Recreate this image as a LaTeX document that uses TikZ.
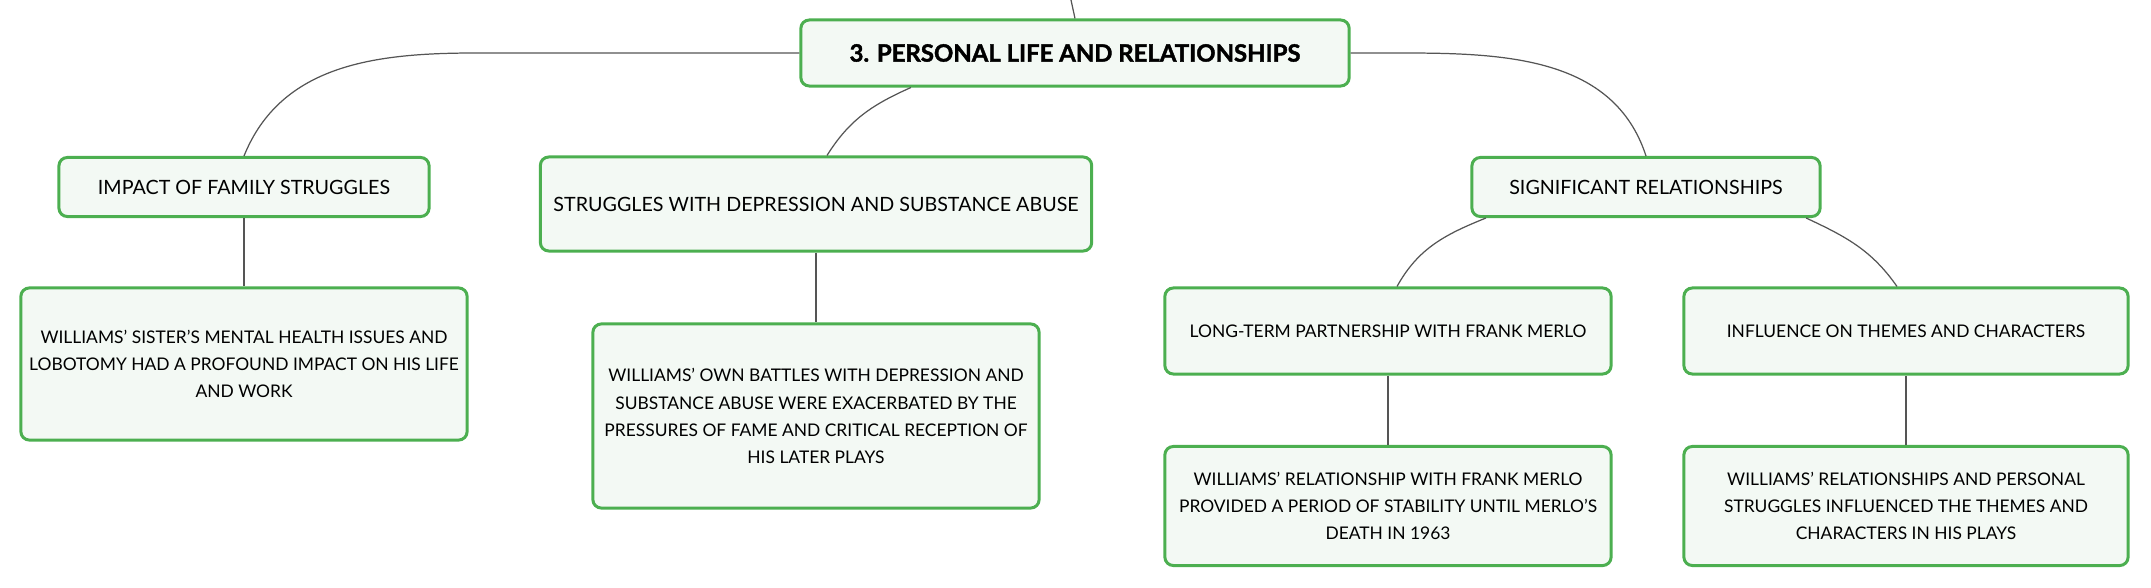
\documentclass[tikz,border=0pt]{standalone}
\usepackage{fontspec}
\setmainfont{Lato}[BoldFeatures={FakeBold=1.6}]
\definecolor{boxgreen}{HTML}{4CAF50}
\definecolor{boxfill}{HTML}{F3F9F4}
\definecolor{linkgray}{HTML}{555555}
\begin{document}
\begin{tikzpicture}[x=0.01cm, y=0.01cm,
  box/.style={draw=boxgreen, fill=boxfill, line width=0.85pt, rounded corners=2.4pt,
    align=center, inner sep=0pt, font=\fontsize{5.6}{7.7}\selectfont},
  leaf/.style={box, font=\fontsize{4.95}{7.7}\selectfont},
  link/.style={draw=linkgray, line width=0.35pt}]
\useasboundingbox (0,0) rectangle (2151,-588);
\node[box, font=\bfseries\fontsize{6.8}{8}\selectfont, minimum width=5.48cm, minimum height=0.66cm] (box0) at (1075,-53){3. PERSONAL LIFE AND RELATIONSHIPS};
\coordinate (top0) at (1071,0);
\draw[link] (top0) -- (box0.north);
\node[box, minimum width=3.70cm, minimum height=0.59cm] (box1) at (244,-187){IMPACT OF FAMILY STRUGGLES};
\node[box, minimum width=5.51cm, minimum height=0.94cm] (box2) at (816,-204){STRUGGLES WITH DEPRESSION AND SUBSTANCE ABUSE};
\node[box, minimum width=3.48cm, minimum height=0.59cm] (box3) at (1646,-187){SIGNIFICANT RELATIONSHIPS};
\draw[link] (box0.west) -- ++(-323,0) to[out=180,in=68] (box1.north);
\draw[link] ([xshift=-1.64cm]box0.south) to[out=204,in=58] ([xshift=0.11cm]box2.north);
\draw[link] (box0.east) -- ++(50,0) to[out=0,in=108] (box3.north);
\node[leaf, minimum width=4.46cm, minimum height=1.52cm] (box4) at (244,-364){WILLIAMS' SISTER'S MENTAL HEALTH ISSUES AND\\LOBOTOMY HAD A PROFOUND IMPACT ON HIS LIFE\\AND WORK};
\draw[link] (box1) -- (box4);
\node[leaf, minimum width=4.46cm, minimum height=1.84cm] (box5) at (816,-416){WILLIAMS' OWN BATTLES WITH DEPRESSION AND\\SUBSTANCE ABUSE WERE EXACERBATED BY THE\\PRESSURES OF FAME AND CRITICAL RECEPTION OF\\HIS LATER PLAYS};
\draw[link] (box2) -- (box5);
\node[leaf, minimum width=4.46cm, minimum height=0.86cm] (box6) at (1388,-331){LONG-TERM PARTNERSHIP WITH FRANK MERLO};
\node[leaf, minimum width=4.44cm, minimum height=0.86cm] (box7) at (1906,-331){INFLUENCE ON THEMES AND CHARACTERS};
\draw[link] ([xshift=-1.6cm]box3.south) to[out=202,in=61] ([xshift=0.09cm]box6.north);
\draw[link] ([xshift=1.6cm]box3.south) to[out=335,in=125] ([xshift=-0.09cm]box7.north);
\node[leaf, minimum width=4.46cm, minimum height=1.19cm] (box8) at (1388,-506){WILLIAMS' RELATIONSHIP WITH FRANK MERLO\\PROVIDED A PERIOD OF STABILITY UNTIL MERLO'S\\DEATH IN 1963};
\draw[link] (box6) -- (box8);
\node[leaf, minimum width=4.44cm, minimum height=1.19cm] (box9) at (1906,-506){WILLIAMS' RELATIONSHIPS AND PERSONAL\\STRUGGLES INFLUENCED THE THEMES AND\\CHARACTERS IN HIS PLAYS};
\draw[link] (box7) -- (box9);

\end{tikzpicture}
\end{document}
